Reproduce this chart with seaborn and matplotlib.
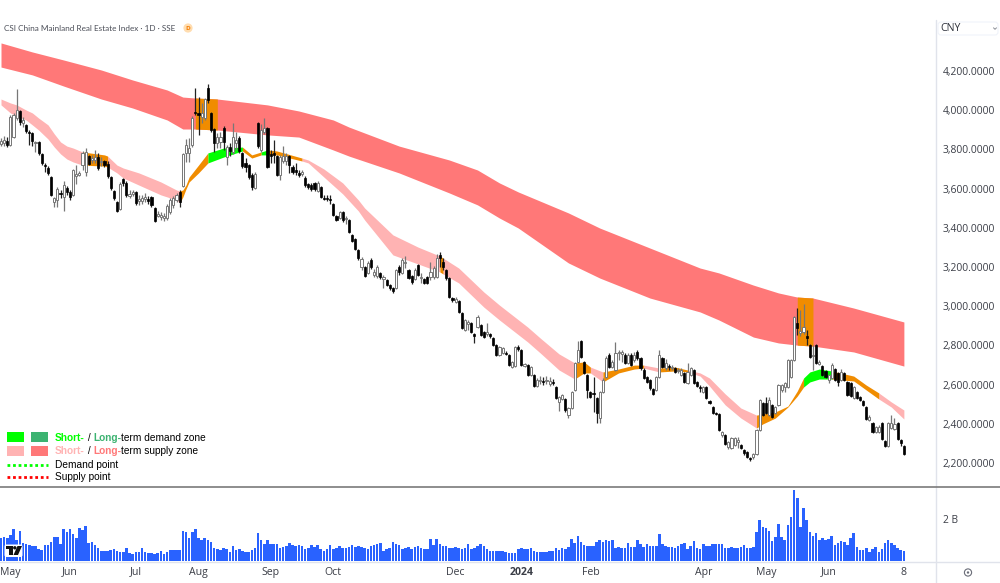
import matplotlib
matplotlib.use("Agg")
import matplotlib.pyplot as plt
from matplotlib.patches import Rectangle, FancyBboxPatch, Circle, Polygon
import numpy as np
import pandas as pd
import seaborn as sns

# Daily candles, CNY index points
opens = [
    3828,3833,3843,3823,3863,3960,3996,3935,3925,3889,
    3884,3833,3838,3777,3720,3705,3659,3532,3542,3578,
    3557,3603,3583,3568,3664,3670,3720,3685,3766,3746,
    3746,3761,3736,3741,3726,3659,3588,3532,3496,3649,
    3629,3562,3573,3583,3537,3537,3547,3547,3557,3501,
    3460,3455,3450,3450,3481,3517,3542,3583,3613,3782,
    3782,3823,3991,3986,3965,3960,4113,3986,3904,3833,
    3838,3909,3761,3812,3787,3833,3858,3782,3731,3720,
    3670,3603,3935,3797,3889,3909,3777,3782,3766,3670,
    3741,3741,3766,3710,3695,3680,3675,3654,3624,3618,
    3629,3588,3608,3552,3552,3547,3522,3460,3450,3481,
    3445,3440,3364,3343,3287,3200,3200,3170,3236,3160,
    3154,3170,3139,3134,3109,3093,3093,3200,3170,3221,
    3185,3154,3139,3211,3144,3139,3149,3149,3149,3149,
    3262,3226,3185,3144,3042,3022,3027,2966,2879,2910,
    2915,2859,2894,2904,2869,2859,2859,2838,2802,2752,
    2762,2762,2752,2690,2696,2792,2777,2696,2701,2650,
    2650,2593,2619,2619,2619,2604,2614,2588,2512,2527,
    2527,2445,2481,2573,2716,2823,2716,2650,2563,2558,
    2532,2430,2563,2639,2752,2690,2675,2762,2757,2752,
    2711,2752,2726,2767,2736,2675,2639,2624,2578,2573,
    2639,2736,2685,2695,2685,2685,2670,2650,2660,2609,
    2650,2675,2614,2588,2563,2588,2517,2486,2456,2451,
    2344,2344,2282,2277,2293,2308,2293,2267,2257,2226,
    2231,2247,2369,2507,2507,2446,2496,2456,2496,2573,
    2588,2588,2639,2726,2915,2864,2869,2848,2802,2746,
    2802,2706,2696,2670,2624,2634,2680,2660,2624,2660,
    2614,2609,2532,2563,2537,2517,2486,2420,2405,2359,
    2359,2405,2313,2287,2379,2374,2405,2318,2287,
]
closes = [
    3843,3848,3823,3965,3976,4001,3940,3950,3894,3884,
    3843,3838,3782,3731,3715,3680,3568,3552,3598,3573,
    3618,3583,3557,3695,3675,3680,3782,3787,3726,3756,
    3761,3705,3741,3720,3664,3603,3552,3486,3624,3629,
    3568,3573,3583,3527,3547,3552,3557,3537,3517,3435,
    3470,3465,3460,3511,3542,3552,3568,3532,3777,3823,
    3807,3960,3986,3976,3986,4057,4052,3899,3833,3863,
    3863,3838,3812,3792,3863,3848,3792,3715,3710,3659,
    3608,3675,3817,3899,3909,3710,3766,3772,3670,3761,
    3766,3766,3720,3685,3685,3670,3685,3618,3608,3598,
    3598,3629,3557,3547,3547,3542,3465,3440,3481,3440,
    3450,3379,3333,3292,3246,3241,3154,3221,3200,3175,
    3200,3149,3149,3109,3093,3078,3185,3175,3236,3226,
    3144,3124,3185,3160,3149,3119,3119,3175,3195,3246,
    3246,3200,3144,3047,3032,3037,2971,2889,2930,2920,
    2869,2848,2945,2854,2843,2869,2848,2802,2752,2792,
    2787,2757,2701,2716,2792,2782,2701,2706,2650,2690,
    2593,2624,2624,2614,2624,2619,2609,2532,2537,2547,
    2471,2481,2563,2711,2777,2741,2660,2573,2537,2553,
    2456,2563,2624,2736,2690,2716,2762,2767,2767,2711,
    2752,2701,2752,2736,2685,2634,2614,2583,2553,2639,
    2752,2690,2711,2690,2690,2665,2675,2675,2614,2665,
    2685,2609,2593,2583,2588,2532,2507,2456,2451,2369,
    2359,2298,2308,2328,2328,2318,2277,2252,2231,2221,
    2247,2369,2522,2446,2456,2522,2435,2486,2598,2598,
    2609,2726,2726,2945,2889,2874,2894,2838,2741,2752,
    2711,2716,2650,2639,2650,2701,2624,2614,2665,2624,
    2548,2542,2588,2532,2522,2496,2425,2435,2359,2384,
    2384,2323,2287,2405,2405,2400,2323,2303,2247,
]
highs = [
    3858,3868,3863,3976,3986,4108,4001,3965,3930,3899,
    3889,3843,3843,3782,3731,3715,3664,3557,3608,3593,
    3639,3613,3593,3700,3720,3690,3792,3807,3772,3772,
    3797,3782,3761,3746,3741,3664,3593,3537,3634,3654,
    3639,3593,3593,3588,3568,3568,3578,3562,3562,3506,
    3486,3481,3476,3522,3552,3562,3578,3593,3782,3853,
    3858,3970,4113,4067,4037,4062,4134,3991,3909,3884,
    3889,3919,3823,3833,3935,3889,3868,3787,3756,3726,
    3680,3685,3940,3930,3960,3914,3797,3848,3772,3772,
    3817,3782,3772,3720,3731,3695,3695,3664,3629,3629,
    3634,3639,3613,3568,3568,3568,3527,3465,3486,3486,
    3460,3445,3369,3348,3292,3251,3205,3231,3246,3190,
    3211,3175,3160,3139,3114,3098,3190,3211,3246,3256,
    3190,3160,3195,3216,3170,3144,3154,3226,3205,3267,
    3277,3246,3190,3149,3047,3047,3032,2971,2935,2930,
    2920,2864,2956,2910,2874,2915,2864,2843,2808,2797,
    2792,2772,2757,2721,2797,2802,2782,2711,2706,2696,
    2655,2634,2644,2639,2644,2639,2629,2593,2542,2553,
    2532,2486,2568,2716,2823,2828,2721,2655,2568,2639,
    2537,2568,2634,2746,2762,2726,2818,2777,2777,2762,
    2762,2762,2767,2777,2741,2685,2644,2629,2583,2644,
    2777,2741,2731,2706,2701,2690,2685,2685,2665,2711,
    2690,2680,2619,2598,2593,2593,2522,2491,2461,2456,
    2364,2349,2313,2333,2333,2333,2298,2272,2262,2231,
    2252,2374,2527,2512,2537,2537,2502,2491,2604,2604,
    2614,2731,2731,2950,2991,2981,3012,2879,2808,2802,
    2808,2726,2701,2675,2655,2711,2685,2665,2680,2665,
    2619,2614,2593,2568,2542,2522,2491,2445,2410,2389,
    2394,2410,2318,2410,2445,2430,2410,2323,2292,
]
lows = [
    3817,3817,3812,3817,3858,3950,3925,3914,3884,3823,
    3817,3787,3772,3720,3685,3670,3562,3506,3506,3552,
    3486,3568,3542,3562,3624,3664,3695,3664,3720,3731,
    3731,3695,3715,3710,3654,3593,3542,3481,3491,3613,
    3557,3552,3562,3517,3517,3522,3532,3522,3506,3430,
    3455,3440,3435,3440,3471,3501,3532,3506,3608,3736,
    3736,3812,3976,3874,3935,3950,4037,3889,3787,3807,
    3807,3797,3720,3766,3777,3797,3782,3705,3685,3649,
    3593,3598,3807,3787,3879,3705,3731,3731,3664,3644,
    3731,3720,3680,3675,3670,3659,3664,3608,3598,3588,
    3588,3583,3552,3542,3537,3522,3460,3435,3445,3430,
    3420,3374,3328,3287,3236,3185,3149,3165,3190,3149,
    3144,3139,3093,3103,3083,3068,3088,3160,3165,3195,
    3139,3114,3134,3154,3119,3114,3114,3134,3139,3144,
    3200,3185,3134,3042,3022,3017,2966,2884,2874,2879,
    2864,2813,2889,2848,2838,2848,2838,2797,2746,2746,
    2757,2752,2696,2685,2690,2772,2696,2690,2644,2644,
    2588,2588,2604,2598,2604,2593,2598,2527,2466,2522,
    2461,2430,2476,2568,2711,2736,2655,2532,2532,2461,
    2405,2405,2558,2634,2685,2685,2670,2726,2716,2706,
    2706,2696,2716,2726,2675,2629,2609,2573,2548,2568,
    2634,2685,2675,2675,2675,2660,2660,2644,2609,2604,
    2644,2604,2588,2563,2558,2527,2502,2451,2445,2364,
    2333,2293,2272,2272,2287,2277,2272,2242,2226,2211,
    2221,2242,2364,2440,2451,2440,2430,2451,2491,2563,
    2563,2583,2634,2721,2854,2848,2859,2802,2736,2675,
    2706,2701,2644,2634,2609,2629,2619,2593,2619,2619,
    2542,2537,2527,2527,2517,2491,2420,2415,2354,2354,
    2354,2318,2282,2282,2374,2369,2318,2287,2241,
]

# Daily volume, billions
volume_bn = [
    1.08,1.16,1.08,1.24,1.52,1.00,1.43,.84,.79,.76,
    .73,.73,.57,.52,.76,.76,.92,1.16,1.16,.79,
    1.52,1.40,1.52,1.27,1.11,1.59,1.48,1.68,.84,.92,
    .76,.63,.49,.49,.48,.52,.57,.48,.44,.44,
    .63,.38,.35,.41,.41,.60,.41,.38,.38,.32,
    .37,.48,.32,.41,.51,.54,.54,.54,1.43,1.37,
    1.08,1.37,1.52,1.08,1.00,1.08,1.00,.92,.63,.57,
    .52,.63,.57,.44,.70,.52,.57,.48,.44,.44,
    .52,.63,1.33,1.00,.80,1.00,.80,.80,.80,.60,
    .65,.70,.85,.75,.70,.75,.70,.55,.60,.75,
    .65,.76,.55,.50,.55,.75,.55,.60,.70,.60,
    .60,.65,.75,.65,.70,.65,.60,.55,.70,.75,
    .80,.84,.50,.55,.60,.92,.80,.75,.55,.60,
    .65,.55,.65,.70,.60,.55,.55,1.05,.75,1.03,
    .80,.70,.73,.60,.60,.65,.60,.55,.60,.80,
    .55,.60,.70,.80,.70,.55,.50,.48,.48,.48,
    .48,.45,.37,.37,.40,.55,.60,.58,.55,.60,
    .50,.45,.45,.45,.45,.48,.48,.60,.52,.60,
    .55,.68,1.05,.85,1.20,.90,.75,.70,.72,.70,
    .90,1.00,.90,1.00,.95,1.00,.60,.65,.60,.60,
    .85,.65,.65,1.00,.80,.65,.80,.70,.70,.70,
    1.29,.80,.70,.65,.65,.60,.70,.80,.85,.55,
    .70,.95,.60,.55,.80,.70,.70,.80,.80,.80,
    .80,.60,.60,.68,.60,.62,.65,.75,.60,.60,
    .65,1.38,1.95,1.63,1.59,1.43,.94,1.16,1.76,1.16,
    1.00,1.70,2.11,3.38,2.98,1.60,2.52,1.95,1.40,1.21,
    1.32,1.00,1.08,1.00,1.05,1.21,.76,.84,.97,.92,
    .76,1.08,1.32,.68,.52,.52,.60,.44,.57,.65,
    .44,.57,.84,1.00,.84,.76,.60,.52,.48,
]

# Long-term supply band, sampled at these bar numbers
long_bars = [0,10,20,32,42,53,58,62,69,85,95,106,111,127,143,152,159,165,
             181,191,207,223,229,240,248,254,259,272,288]
long_upper = [4343,4297,4256,4205,4154,4103,4067,4062,4057,4027,3996,3950,3914,
              3817,3746,3695,3629,3583,3476,3399,3297,3195,3170,3108,3068,3047,
              3042,2991,2920]
long_lower = [4220,4180,4123,4057,4011,3950,3904,3904,3899,3874,3863,3797,3766,
              3680,3578,3517,3450,3399,3221,3144,3042,2971,2930,2843,2813,2802,
              2797,2767,2695]

# Short-term band, sampled at these bar numbers
short_bars = [0,3,5,8,10,12,15,17,19,21,23,26,33,34,37,39,44,51,56,57,58,59,60,63,66,71,
              77,80,83,85,88,96,98,103,109,114,116,125,133,140,141,146,154,159,
              168,172,178,183,186,188,192,197,202,205,210,215,219,223,226,231,
              236,241,243,247,251,254,256,258,261,265,272,276,280,284,288]
short_upper = [4057,4037,4027,4001,3986,3960,3925,3879,3838,3817,3807,3787,3772,3766,3720,3705,
               3680,3634,3593,3588,3593,3618,3659,3720,3782,3807,3812,3772,3787,
               3797,3792,3756,3746,3700,3629,3542,3501,3364,3302,3256,3246,3195,
               3073,3006,2894,2838,2757,2711,2716,2690,2665,2680,2700,2700,2685,
               2690,2675,2660,2634,2553,2481,2445,2451,2461,2491,2568,2634,2665,
               2680,2670,2644,2598,2558,2512,2471]
short_lower = [4027,3986,3970,3950,3925,3899,3853,3812,3777,3751,3736,3720,3715,3710,3680,3654,
               3618,3568,3542,3527,3557,3598,3634,3680,3731,3761,3792,3756,3772,
               3772,3772,3741,3731,3659,3573,3486,3440,3262,3216,3175,3165,3119,
               2996,2930,2818,2762,2675,2629,2660,2660,2614,2660,2680,2685,2665,
               2670,2665,2644,2593,2497,2430,2379,2400,2430,2486,2542,2588,2614,
               2629,2629,2619,2573,2527,2486,2425]

# Stretches of bars where each band changes state
short_supply_spans = [(0,26),(34,57),(96,140),(141,183),(188,192),(205,210),(219,241),(280,288)]
neutral_spans = [(26,34),(57,66),(77,83),(85,96),(140,141),(183,188),(192,205),(210,219),(241,256),(265,280)]
short_demand_spans = [(66,77),(83,85),(256,265)]
long_neutral_spans = [(62,69),(254,259)]

price_ticks = [2200,2400,2600,2800,3000,3200,3400,3600,3800,4000,4200]
time_tick_bars = [3,22,43,63,86,106,145,166,188,224,244,264,288]
time_tick_labels = ["May","Jun","Jul","Aug","Sep","Oct","Dec","2024","Feb","Apr","May","Jun","8"]

GREEN = "#00FF00"
DARK_GREEN = "#3CB371"
PINK = "#FFB3B3"
RED = "#FF7878"
ORANGE = "#F08C00"
BLUE = "#2962FF"
GRID = "#E0E3EB"
SEPARATOR = "#7A7A7A"
TEXT = "#3a3d46"
BAR_PITCH = 3.135

sns.set_theme(style="white")
plt.rcParams["font.family"] = ["Open Sans", "DejaVu Sans"]

fig = plt.figure(figsize=(10, 5.83), dpi=100)
W, H = 1000, 583


def rect(x0, y0, x1, y1):
    return [x0 / W, 1 - y1 / H, (x1 - x0) / W, (y1 - y0) / H]


ax = fig.add_axes(rect(0, 20, 936, 487))
ax_vol = fig.add_axes(rect(0, 487, 936, 561))
overlay = fig.add_axes([0, 0, 1, 1], zorder=10)
overlay.set_xlim(0, W)
overlay.set_ylim(H, 0)
overlay.axis("off")
overlay.patch.set_alpha(0)

bars = np.arange(len(closes))
x_limits = (-1 / BAR_PITCH, (936 - 1) / BAR_PITCH)

# Supply and demand bands
lb = np.array(long_bars)
ax.fill_between(lb, long_lower, long_upper, color=RED, lw=0, zorder=1)
for a, b in long_neutral_spans:
    ax.fill_between(lb, long_lower, long_upper, where=(lb >= a) & (lb <= b),
                    color=ORANGE, lw=0, zorder=1.5)

sb = np.array(short_bars)
for spans, colour in ((short_supply_spans, PINK), (neutral_spans, ORANGE), (short_demand_spans, GREEN)):
    for a, b in spans:
        ax.fill_between(sb, short_lower, short_upper, where=(sb >= a) & (sb <= b),
                        color=colour, lw=0, zorder=2)

# Candles
o, c, h, l = map(np.array, (opens, closes, highs, lows))
up = c >= o
ax.vlines(bars[up], l[up], h[up], color="#777777", lw=0.9, zorder=3)
ax.vlines(bars[~up], l[~up], h[~up], color="#222222", lw=0.9, zorder=3)
ax.bar(bars[up], (c - o)[up], bottom=o[up], width=0.68, color="white",
       edgecolor="#777777", linewidth=0.7, zorder=4)
ax.bar(bars[~up], (o - c)[~up], bottom=c[~up], width=0.68, color="#000000",
       edgecolor="#000000", linewidth=0.5, zorder=4)

ax.set_xlim(*x_limits)
ax.set_ylim(2078.3, 4460)
ax.set_xticks([])
ax.yaxis.tick_right()
ax.set_yticks(price_ticks)
ax.set_yticklabels([f"{p:,.4f}" for p in price_ticks])
ax.tick_params(axis="y", length=0, pad=5, labelsize=7.4, labelcolor=TEXT)
for spine in ax.spines.values():
    spine.set_visible(False)

# Volume
vol_frame = pd.DataFrame({"bar": bars, "volume": volume_bn})
sns.barplot(data=vol_frame, x="bar", y="volume", native_scale=True, color=BLUE,
            saturation=1, width=0.82, linewidth=0, ax=ax_vol)
ax_vol.set_xlim(*x_limits)
ax_vol.set_ylim(0, 74 / 21)
ax_vol.set_xlabel("")
ax_vol.set_ylabel("")
ax_vol.yaxis.tick_right()
ax_vol.set_yticks([2])
ax_vol.set_yticklabels(["2 B"])
ax_vol.set_xticks(time_tick_bars)
ax_vol.set_xticklabels(time_tick_labels)
ax_vol.tick_params(axis="y", length=0, pad=5, labelsize=7.4, labelcolor=TEXT)
ax_vol.tick_params(axis="x", length=0, pad=4, labelsize=7.6, labelcolor=TEXT)
for lab, txt in zip(ax_vol.get_xticklabels(), time_tick_labels):
    if txt == "2024":
        lab.set_fontweight("bold")
for spine in ax_vol.spines.values():
    spine.set_visible(False)

# Frame lines around the panes
overlay.plot([936, 936], [20, 583], color=GRID, lw=1, zorder=1)
overlay.plot([0, 1000], [561.5, 561.5], color=GRID, lw=1, zorder=1)
overlay.plot([0, 1000], [486.5, 486.5], color=SEPARATOR, lw=1.2, zorder=1)

# Header text
overlay.text(4, 28.5, "CSI China Mainland Real Estate Index · 1D · SSE", fontsize=5.9,
             family="Lato", color="#4a4d57", va="center", ha="left")
overlay.add_patch(Circle((188, 28), 4.6, facecolor="#FFDDB0", edgecolor="none"))
overlay.text(188, 28.3, "D", fontsize=4.6, color="#F57C00", ha="center", va="center", fontweight="bold")

# Currency selector
overlay.add_patch(FancyBboxPatch((938, 22), 60, 13, boxstyle="round,pad=0,rounding_size=3",
                                 facecolor="white", edgecolor="#F0F3FA", lw=0.8))
overlay.text(940, 28.7, "CNY", fontsize=7.6, color="#2a2e39", va="center", ha="left")
overlay.plot([993.5, 995, 996.5], [27.8, 29.3, 27.8], color="#8a8d96", lw=0.7)

# Legend swatches and dotted keys
for x0, y0, colour in ((7, 432, GREEN), (31, 432, DARK_GREEN), (7, 446, PINK), (31, 446, RED)):
    overlay.add_patch(Rectangle((x0, y0), 17, 10, facecolor=colour, edgecolor="none"))
overlay.plot([7, 48], [464.5, 464.5], color=GREEN, lw=2, ls=(0, (1, 1)))
overlay.plot([7, 48], [477, 477], color="#FF0000", lw=2, ls=(0, (1, 1)))

renderer = fig.canvas.get_renderer()


def coloured_line(x, y, runs):
    for s, colour in runs:
        t = overlay.text(x, y, s, color=colour, fontsize=7.3, family="Liberation Sans",
                         fontweight="bold" if colour != "#000000" else "normal",
                         va="center", ha="left")
        t.set_path_effects([])
        x = t.get_window_extent(renderer).x1


coloured_line(55, 438, [("Short-", GREEN), (" / ", "#000000"), ("Long-", DARK_GREEN),
                        ("term demand zone", "#000000")])
coloured_line(55, 451, [("Short-", PINK), (" / ", "#000000"), ("Long-", RED),
                        ("term supply zone", "#000000")])
coloured_line(55, 465, [("Demand point", "#000000")])
coloured_line(55, 477.5, [("Supply point", "#000000")])

# Vendor mark in the volume pane
overlay.add_patch(FancyBboxPatch((4.5, 544.5), 18, 12.5, boxstyle="round,pad=0,rounding_size=2",
                                 facecolor="white", edgecolor="none"))
overlay.add_patch(Polygon([(5.5, 546), (12.5, 546), (12.5, 555), (9, 555), (9, 549), (5.5, 549)],
                          facecolor="#111111", edgecolor="none"))
overlay.add_patch(Circle((14.8, 547.8), 1.7, facecolor="#111111", edgecolor="none"))
overlay.add_patch(Polygon([(17.5, 546), (22, 546), (18, 555), (13.5, 555)],
                          facecolor="#111111", edgecolor="none"))

# Auto-scale button
overlay.add_patch(Circle((968, 572.5), 3.6, facecolor="none", edgecolor="#6a6d78", lw=0.8))
overlay.add_patch(Circle((968, 572.5), 1.2, facecolor="#6a6d78", edgecolor="none"))

fig.savefig("out.png", dpi=100)
